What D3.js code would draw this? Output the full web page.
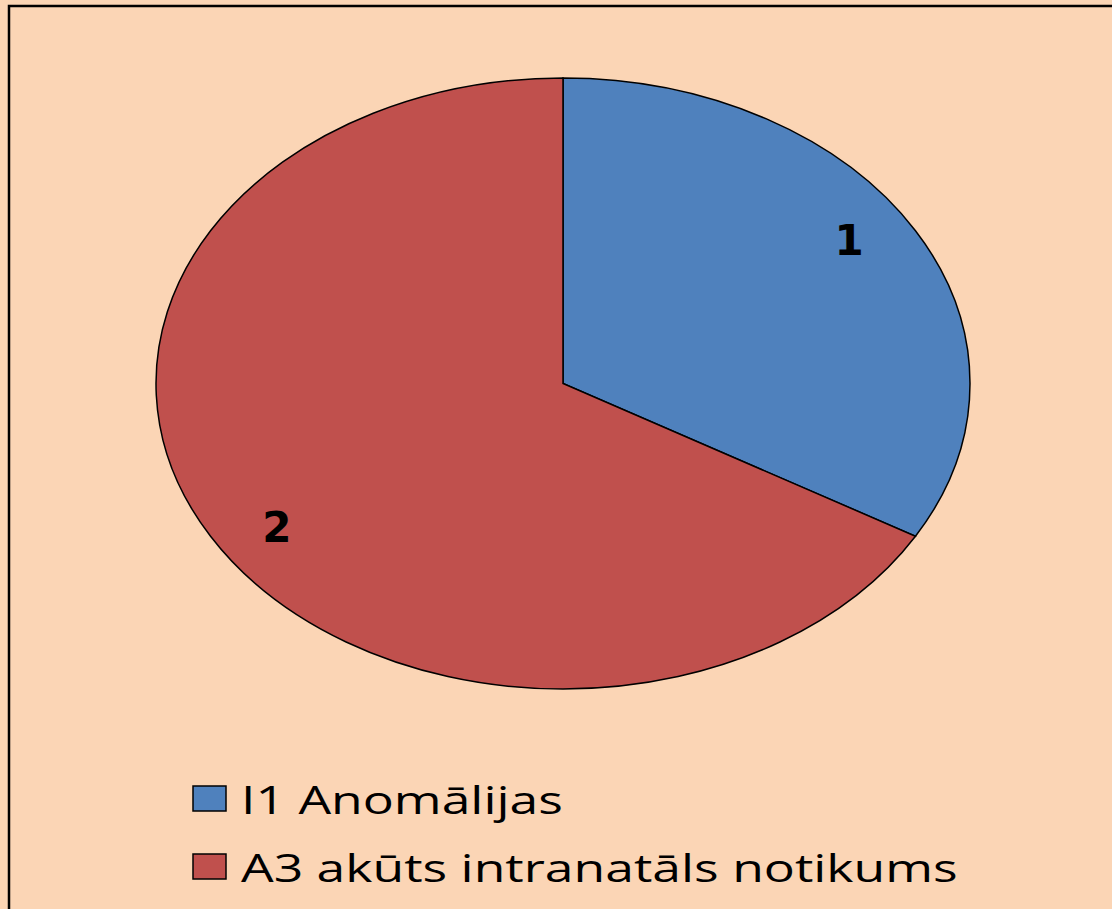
<!DOCTYPE html>
<html>
<head>
<meta charset="utf-8">
<script src="https://cdn.jsdelivr.net/npm/d3@7"></script>
<style>
  body { margin: 0; background: #fbd5b5; }
  svg { display: block; }
</style>
</head>
<body>
<svg id="chart"></svg>
<script>
var categories = ["I1 Anomālijas", "A3 akūts intranatāls notikums"];
var values = [1, 2];
var colors = ["#4f81bd", "#c0504d"];

var width = 1112, height = 909;
var svg = d3.select("#chart").attr("width", width).attr("height", height);

// background + frame (frame runs off the right/bottom edge)
svg.append("rect")
    .attr("x", 9).attr("y", 6)
    .attr("width", width + 20).attr("height", height + 20)
    .attr("fill", "#fbd5b5")
    .attr("stroke", "#000").attr("stroke-width", 2.5);

var cx = 563, cy = 383.5, rx = 407, ry = 305.5;

var pie = d3.pie().sort(null).value(function(d) { return d; });
var arcs = pie(values);
var arc = d3.arc().innerRadius(0).outerRadius(ry);
var labelArc = d3.arc().innerRadius(ry).outerRadius(ry);

var g = svg.append("g")
    .attr("transform", "translate(" + cx + "," + cy + ") scale(" + (rx / ry) + ",1)");

g.selectAll("path.slice")
    .data(arcs)
    .enter().append("path")
    .attr("class", "slice")
    .attr("d", arc)
    .attr("fill", function(d, i) { return colors[i]; })
    .attr("stroke", "#000")
    .attr("stroke-width", 1.5)
    .attr("vector-effect", "non-scaling-stroke");

// data labels, pulled in a bit more horizontally than vertically
svg.selectAll("text.val")
    .data(arcs)
    .enter().append("text")
    .attr("class", "val")
    .attr("x", function(d) { return cx + labelArc.centroid(d)[0] * (rx / ry) * 0.812; })
    .attr("y", function(d) { return cy + labelArc.centroid(d)[1] * 0.94; })
    .attr("dy", "0.36em")
    .attr("text-anchor", "middle")
    .style("font-family", "DejaVu Sans")
    .style("font-weight", "bold")
    .style("font-size", "42px")
    .text(function(d) { return d.data; });

// legend
var legend = svg.selectAll("g.legend")
    .data(categories)
    .enter().append("g")
    .attr("class", "legend")
    .attr("transform", function(d, i) { return "translate(193," + (786 + i * 68) + ")"; });

legend.append("rect")
    .attr("width", 33).attr("height", 25)
    .attr("fill", function(d, i) { return colors[i]; })
    .attr("stroke", "#000").attr("stroke-width", 1.5);

legend.append("text")
    .attr("transform", "translate(48,28) scale(1.325,1)")
    .style("font-family", "Open Sans")
    .style("font-size", "39px")
    .text(function(d) { return d; });
</script>
</body>
</html>
